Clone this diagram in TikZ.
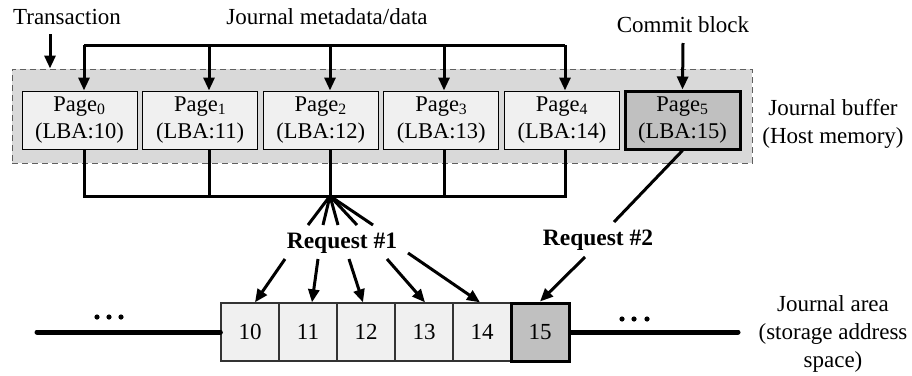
\documentclass[tikz,border=0pt]{standalone}
\usepackage{fontspec}
\setmainfont{Liberation Serif}
\usetikzlibrary{arrows.meta,calc}
\definecolor{pagefill}{HTML}{F0F0F0}
\definecolor{buffill}{HTML}{D9D9D9}
\definecolor{commitfill}{HTML}{C0C0C0}
\definecolor{dashgray}{HTML}{606060}
\begin{document}
\begin{tikzpicture}[x=1pt,y=-1pt,
  lbl/.style={font=\fontsize{23}{28}\selectfont, inner sep=0pt, align=center},
  bar/.style={line width=3pt},
  arr/.style={line width=3pt, -{Triangle[length=13pt,width=11pt]}},
  bufbox/.style={draw=dashgray, line width=1pt, dash pattern=on 6pt off 4pt,
    fill=buffill, minimum width=740pt, minimum height=94pt, inner sep=0pt},
  page/.style={draw=black, line width=1pt, fill=pagefill, minimum width=115pt,
    minimum height=58pt, inner sep=0pt, align=center,
    font=\fontsize{22.5}{27}\selectfont},
  commitpage/.style={page, fill=commitfill, line width=3pt},
  blk/.style={draw=black!80, line width=1.3pt, fill=pagefill, minimum width=58pt,
    minimum height=58pt, inner sep=0pt, font=\fontsize{23}{28}\selectfont},
  commitblk/.style={blk, draw=black, fill=commitfill, line width=3pt},
  dot/.style={fill=black, draw=none}
]
\useasboundingbox (0,0) rectangle (912,375);

% journal buffer in host memory
\node[bufbox] (buf) at (382,116) {};
\foreach \i/\x in {0/79.5,1/200.1,2/320.7,3/441.3,4/561.9}
  \node[page] (p\i) at (\x,120) {Page\textsubscript{\i}\\(LBA:1\i)};
\node[commitpage] (p5) at (682.5,120) {Page\textsubscript{5}\\(LBA:15)};

% labels
\node[lbl] (trans) at (67,17) {Transaction};
\node[lbl] (meta) at (327,17) {Journal metadata/data};
\node[lbl] (commit) at (683,25) {Commit block};
\node[lbl] (jbuf) at (833,124) {Journal buffer\\(Host memory)};
\node[lbl] (jarea) at (833,334) {Journal area\\(storage address\\space)};
\node[lbl, font=\fontsize{23.5}{28}\selectfont\bfseries] (req1) at (342,243) {Request \#1};
\node[lbl, font=\fontsize{23.5}{28}\selectfont\bfseries] (req2) at (598,240) {Request \#2};

% transaction and commit arrows
\coordinate (t0) at (50,34);
\draw[arr] (t0) -- (t0 |- buf.north);
\coordinate (c0) at (683,43);
\draw[arr] (c0) -- (p5.north);

% metadata/data fan-in bracket
\foreach \i/\x in {0/84,1/209,2/330,3/444,4/565}
  \coordinate (j\i) at (\x,45);
\draw[bar] (j0) -- (j4);
\foreach \i in {0,...,4}
  \draw[arr] (j\i) -- (j\i |- p\i.north);

% gathering bracket below the pages
\coordinate (hub) at (330,196);
\draw[bar] (j0 |- p0.south) -- (j0 |- hub) -- (j4 |- hub) -- (j4 |- p4.south);
\foreach \i in {1,2,3}
  \draw[bar] (j\i |- p\i.south) -- (j\i |- hub);
\foreach \k/\x in {1/308,2/323,3/338,4/357,5/373} {
  \coordinate (f\k) at (\x,225);
  \draw[bar] (hub) -- (f\k);
}

% journal area blocks
\foreach \n/\x in {10/250,11/308,12/366,13/424,14/482}
  \node[blk] (b\n) at (\x,332) {\n};
\node[commitblk] (b15) at (540,332) {15};

\draw[line width=5pt, line cap=round] (37,332) -- (b10.west);
\draw[line width=5pt, line cap=round] (b15.east) -- (738,332);
\foreach \x in {97,109,121} \fill[dot] (\x,317) circle (2.6pt);
\foreach \x in {622,634,647} \fill[dot] (\x,319) circle (2.6pt);

% request #1 arrows
\coordinate (s1) at (285,259);
\coordinate (s2) at (318,259);
\coordinate (s3) at (349,259);
\coordinate (s4) at (387,259);
\coordinate (s5) at (408,253);
\draw[arr] (s1) -- ([xshift=5pt]b10.north);
\draw[arr] (s2) -- ([xshift=4pt]b11.north);
\draw[arr] (s3) -- ([xshift=-3pt]b12.north);
\draw[arr] (s4) -- ([xshift=1pt]b13.north);
\draw[arr] (s5) -- ([xshift=-2pt]b14.north);

% request #2
\coordinate (r2a) at (614,222);
\coordinate (r2b) at (585,257);
\draw[bar] (p5.south) -- (r2a);
\draw[arr] (r2b) -- (b15.north);
\end{tikzpicture}
\end{document}
